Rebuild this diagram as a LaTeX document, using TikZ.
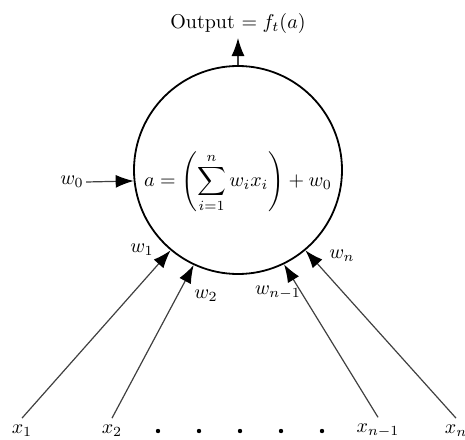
\documentclass[tikz,border=0pt]{standalone}
\usepackage{amsmath}
\usepackage{tikz}
\usetikzlibrary{arrows.meta}

\begin{document}
\begin{tikzpicture}[x=0.5pt,y=-0.5pt,
    inarrow/.style={draw=black!75,line width=0.6pt,-{Latex[length=9pt,width=6.5pt,color=black]}},
    wlabel/.style={inner sep=1pt}]
  \useasboundingbox (0,0) rectangle (465,439);
  % neuron body
  \node[circle,draw,line width=0.9pt,minimum size=104pt,inner sep=0pt] (neuron) at (238,170) {};
  \node (eq) at (238,182) {$\displaystyle a=\left(\sum_{i=1}^{n} w_i x_i\right)+w_0$};
  % output
  \node[anchor=south,inner sep=2pt] (out) at (238,38) {Output $= f_t(a)$};
  \draw[inarrow] (neuron.north) -- (out.south);
  % bias
  \node[inner sep=1pt] (w0) at (72,182) {$w_0$};
  \draw[inarrow] (w0.east) -- (neuron.186.5);
  % inputs
  \node (x1) at (22,431) {$x_1$};
  \node (x2) at (112,431) {$x_2$};
  \node (xm) at (378,431) {$x_{n-1}$};
  \node (xn) at (456,431) {$x_n$};
  \foreach \px in {158,199,240,281,322}
    \fill (\px,431) circle (1.1pt);
  \draw[inarrow] (x1.north) -- (neuron.230);
  \draw[inarrow] (x2.north) -- (neuron.245);
  \draw[inarrow] (xm.north) -- (neuron.296);
  \draw[inarrow] (xn.north) -- (neuron.310);
  % weights
  \node[wlabel] (w1) at (142,250) {$w_1$};
  \node[wlabel] (w2) at (206,296) {$w_2$};
  \node[wlabel] (wm) at (278,293) {$w_{n-1}$};
  \node[wlabel] (wn) at (342,256) {$w_n$};
\end{tikzpicture}
\end{document}
